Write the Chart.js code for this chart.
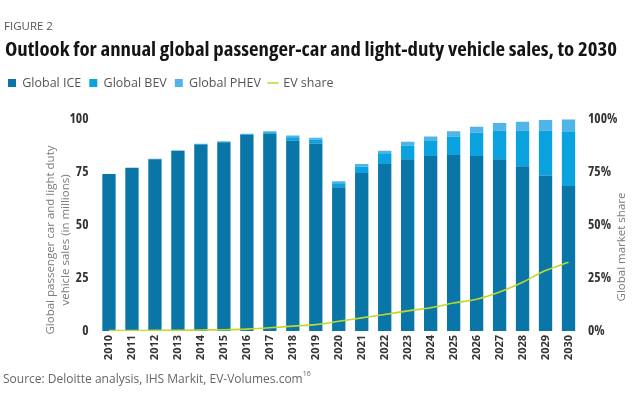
<!DOCTYPE html>
<html>
<head>
<meta charset="utf-8">
<script src="https://cdn.jsdelivr.net/npm/chart.js@4.4.1/dist/chart.umd.min.js"></script>
<style>
html,body{margin:0;padding:0;background:#fff;}
#wrap{position:relative;width:634px;height:402px;overflow:hidden;font-family:'Open Sans',sans-serif;}
#fig{position:absolute;left:4px;top:18px;font-size:11.5px;line-height:normal;color:#555;white-space:nowrap;}
#title{position:absolute;left:5px;top:35px;font-size:19.5px;line-height:normal;font-weight:700;font-stretch:75%;color:#141414;white-space:nowrap;transform-origin:0 0;}
#src{position:absolute;left:3px;top:369.5px;font-size:12px;line-height:normal;color:#666;white-space:nowrap;}
#src sup{font-size:7px;vertical-align:top;position:relative;top:-1px;}
canvas{position:absolute;left:0;top:0;}
</style>
</head>
<body>
<div id="wrap">
  <canvas id="c" width="634" height="402"></canvas>
  <div id="fig">FIGURE 2</div>
  <div id="title">Outlook for annual global passenger-car and light-duty vehicle sales, to 2030</div>
  <div id="src">Source: Deloitte analysis, IHS Markit, EV-Volumes.com<sup>16</sup></div>
</div>
<script>
// ---- data ----
const years = ['2010','2011','2012','2013','2014','2015','2016','2017','2018','2019','2020',
               '2021','2022','2023','2024','2025','2026','2027','2028','2029','2030'];
const iceSales  = [74, 77, 81, 85, 88, 89, 92.4, 93.1, 89.7, 88.5, 67.8,
                   74.5, 78.8, 81, 82.6, 83, 82.6, 81, 77.7, 73.4, 68.4];
const bevSales  = [0, 0, 0.1, 0.1, 0.2, 0.3, 0.45, 0.7, 1.7, 1.8, 1.9,
                   3.1, 5, 6.5, 7, 8.7, 10.9, 13.4, 16.7, 21, 25.5];
const phevSales = [0, 0, 0.1, 0.1, 0.1, 0.2, 0.25, 0.4, 0.8, 0.8, 0.9,
                   1.2, 1.2, 1.8, 2.1, 2.5, 2.8, 3.7, 4.3, 5.1, 5.9];
const evShare   = [0.2, 0.2, 0.3, 0.3, 0.5, 0.6, 0.9, 1.5, 2.3, 3.0, 4.6,
                   6.2, 7.8, 9.5, 11, 13.2, 15, 18.4, 23, 28.5, 32.4];
const salesTicks = [0, 25, 50, 75, 100];
const shareTicks = [0, 25, 50, 75, 100];
const seriesNames = ['Global ICE', 'Global BEV', 'Global PHEV', 'EV share'];
const leftTitle = ['Global passenger car and light duty', 'vehicle sales (in millions)'];
const rightTitle = 'Global market share';

// fit the condensed title to its width
(function(){
  const t = document.getElementById('title');
  const w = t.getBoundingClientRect().width;
  const target = 612;
  t.style.transform = 'scaleX(' + (target / w) + ')';
})();

const COLORS = { ice:'#0a76a8', bev:'#0aa3df', phev:'#50b4e6', line:'#c2d62e' };
const tickFont = {family:"'Open Sans', sans-serif", weight:'bold condensed', size:13.5};

const axisTitles = {
  id:'axisTitles',
  afterDraw(chart){
    const ctx = chart.ctx, a = chart.chartArea;
    const cy = (a.top + a.bottom) / 2;
    ctx.save();
    ctx.font = "11.5px 'Open Sans', sans-serif";
    ctx.fillStyle = '#7a7a7a';
    ctx.textAlign = 'center';
    ctx.textBaseline = 'middle';
    ctx.save();
    ctx.translate(a.left - 47, cy + 15);
    ctx.rotate(-Math.PI/2);
    leftTitle.forEach((s,i)=>ctx.fillText(s, 0, i*15));
    ctx.restore();
    ctx.save();
    ctx.translate(a.right + 42, cy + 22);
    ctx.rotate(-Math.PI/2);
    ctx.fillText(rightTitle, 0, 0);
    ctx.restore();
    ctx.restore();
  }
};

new Chart(document.getElementById('c'), {
  data: {
    labels: years,
    datasets: [
      {type:'bar', label:seriesNames[0], data:iceSales, backgroundColor:COLORS.ice, stack:'s', yAxisID:'y', pointStyle:'rect', order:1},
      {type:'bar', label:seriesNames[1], data:bevSales, backgroundColor:COLORS.bev, stack:'s', yAxisID:'y', pointStyle:'rect', order:1},
      {type:'bar', label:seriesNames[2], data:phevSales, backgroundColor:COLORS.phev, stack:'s', yAxisID:'y', pointStyle:'rect', order:1},
      {type:'line', label:seriesNames[3], data:evShare, borderColor:COLORS.line, backgroundColor:COLORS.line, borderWidth:1.6,
       pointRadius:0, pointStyle:'line', cubicInterpolationMode:'monotone', yAxisID:'y1', order:0}
    ]
  },
  options: {
    responsive:false,
    animation:false,
    devicePixelRatio:1,
    layout:{padding:{top:68.75, left:0, right:0, bottom:30}},
    datasets:{bar:{barPercentage:0.58, categoryPercentage:1}},
    plugins:{
      legend:{
        display:true, position:'top', align:'start', weight:1000,
        labels:{
          usePointStyle:true, boxWidth:8, boxHeight:8, padding:8,
          color:'#555', font:{family:"'Open Sans', sans-serif", size:12.5},
          sort:(a,b)=>a.datasetIndex-b.datasetIndex
        }
      },
      // empty spacer between the legend and the plot area
      subtitle:{display:true, text:' ', position:'top', weight:500, font:{size:1, lineHeight:1}, padding:{top:18.75, bottom:0}},
      tooltip:{enabled:false},
      title:{display:false}
    },
    scales:{
      x:{
        stacked:true,
        grid:{display:false, drawTicks:false},
        border:{display:false},
        ticks:{autoSkip:false, maxRotation:90, minRotation:90, padding:4, color:'#333',
               font:{family:"'Open Sans', sans-serif", weight:'bold', size:11}},
        afterFit(s){ s.height = 41; }
      },
      y:{
        stacked:true, min:0, max:100, position:'left',
        afterBuildTicks(s){ s.ticks = salesTicks.map(v=>({value:v})); },
        grid:{display:false, drawTicks:false},
        border:{display:false},
        ticks:{padding:9, color:'#333', font:tickFont},
        afterFit(s){ s.width = 97.5; }
      },
      y1:{
        min:0, max:100, position:'right',
        afterBuildTicks(s){ s.ticks = shareTicks.map(v=>({value:v})); },
        grid:{display:false, drawTicks:false},
        border:{display:false},
        ticks:{padding:8, color:'#333', font:tickFont, callback:v=>v+'%'},
        afterFit(s){ s.width = 54; }
      }
    }
  },
  plugins:[axisTitles]
});
</script>
</body>
</html>
